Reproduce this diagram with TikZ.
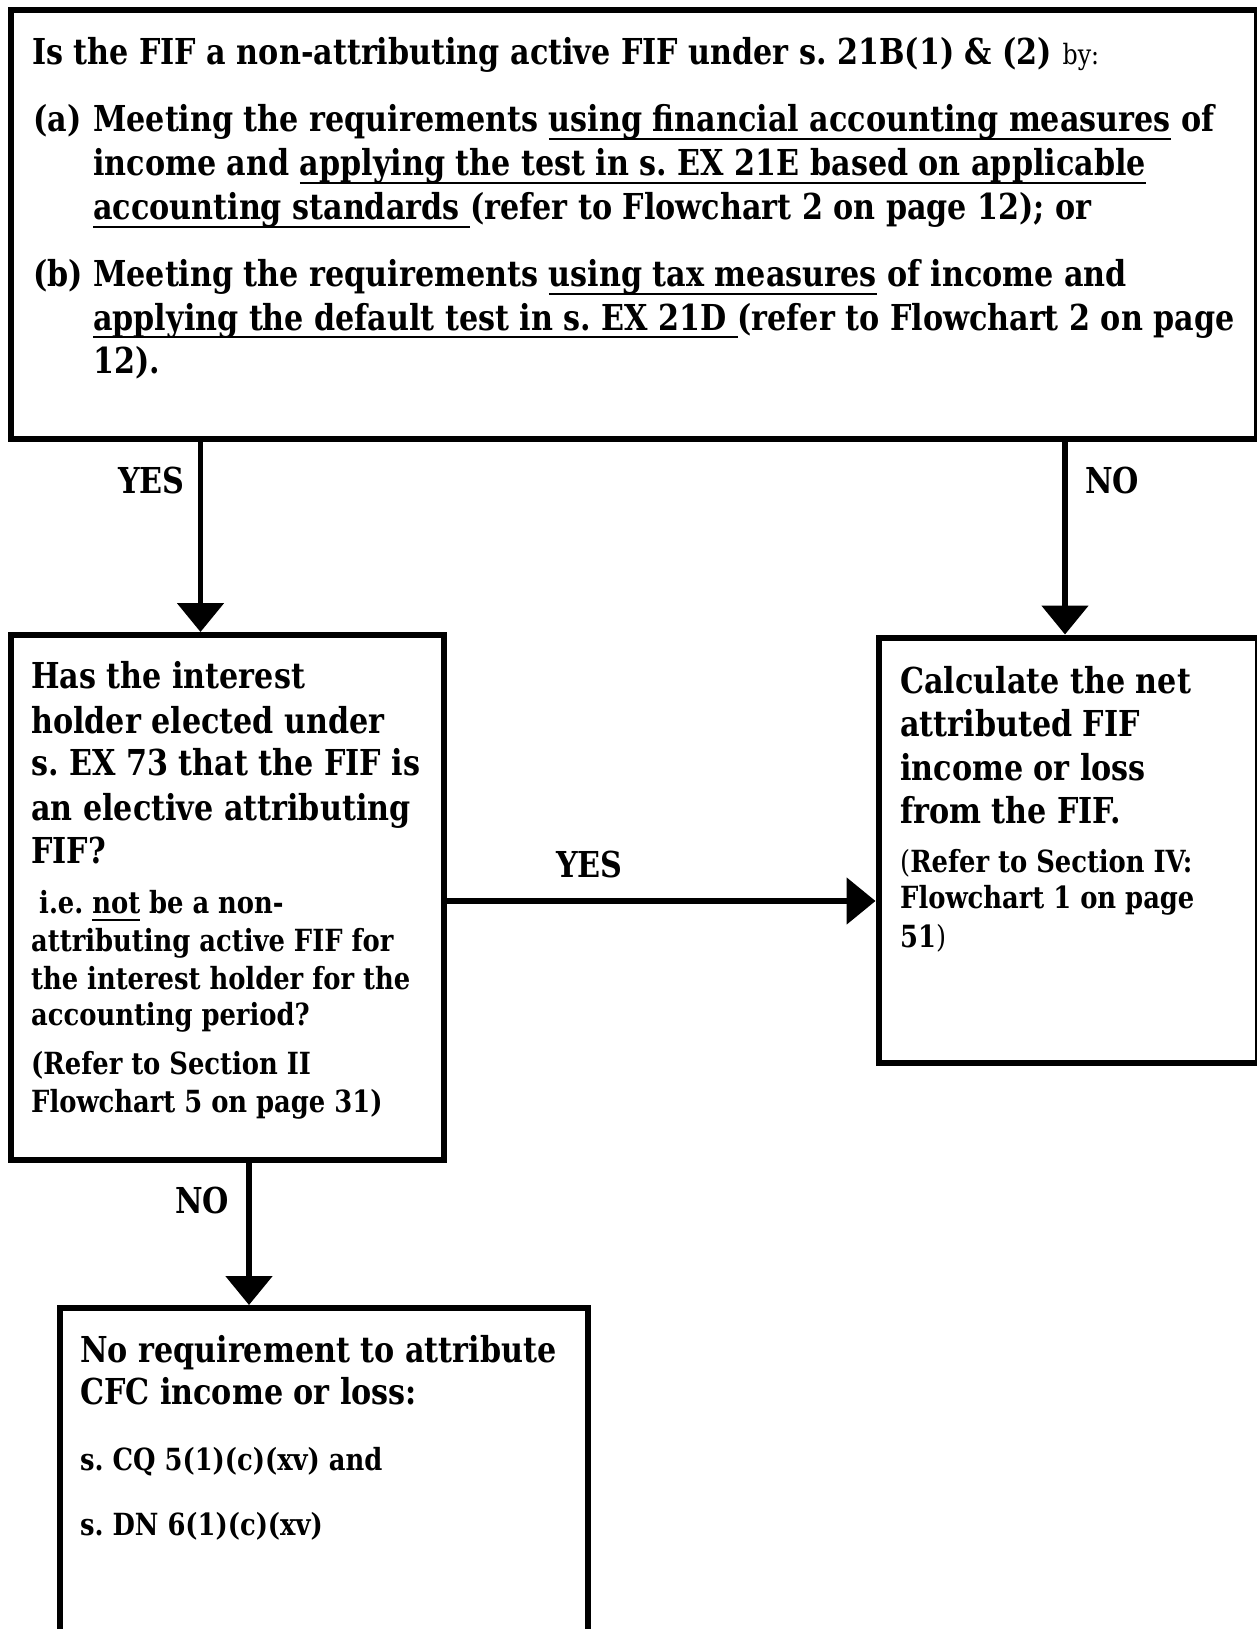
\documentclass[tikz,border=0pt]{standalone}
\usepackage{fontspec}
\setmainfont{DejaVu Serif Condensed}[FakeStretch=0.94]
\usetikzlibrary{arrows.meta}
\frenchspacing
\newcommand\ul[1]{\setbox0\hbox{#1}\rlap{\rule[-8pt]{\wd0}{2pt}}\box0\relax}
\tikzset{
  box/.style={draw, line width=6pt, rectangle, inner sep=0pt, anchor=north west},
  big/.style={font=\fontsize{35.7}{44}\selectfont\bfseries, anchor=base west, inner sep=0pt},
  small/.style={font=\fontsize{30.5}{37}\selectfont\bfseries, anchor=base west, inner sep=0pt},
  arr/.style={line width=5.5pt, -{Triangle[length=29pt,width=46pt]}},
}
\begin{document}
\begin{tikzpicture}[x=1pt,y=-1pt]
\useasboundingbox (0,0) rectangle (1257,1629);
\clip (0,0) rectangle (1257,1629);
% boxes
\node[box, minimum width=1246pt, minimum height=428.5pt] (top) at (8,7) {};
\node[box, minimum width=433pt, minimum height=525pt] (left) at (8,632) {};
\node[box, minimum width=379pt, minimum height=425.5pt] (right) at (875.5,634.5) {};
\node[box, minimum width=528pt, minimum height=400pt] (bottom) at (57,1305) {};
% top box text
\node[big] (t1) at (32,65) {Is the FIF a non-attributing active FIF under s. 21B(1) \& (2) {\mdseries\fontsize{28}{34}\selectfont by:}};
\node[big] (t2a) at (33,132) {(a)};
\node[big] (t2) at (93,132) {Meeting the requirements \ul{using financial accounting measures} of};
\node[big] (t3) at (93,176) {income and \ul{applying the test in s. EX 21E based on applicable}};
\node[big] (t4) at (93,220) {\ul{accounting standards\ }(refer to Flowchart 2 on page 12); or};
\node[big] (t5a) at (33,287) {(b)};
\node[big] (t5) at (93,287) {Meeting the requirements \ul{using tax measures} of income and};
\node[big] (t6) at (93,330) {\ul{applying the default test in s. EX 21D\ }(refer to Flowchart 2 on page};
\node[big] (t7) at (93,373) {12).};
% left box text
\node[big] (l1) at (31,688) {Has the interest};
\node[big] (l2) at (31,733) {holder elected under};
\node[big] (l3) at (31,775) {s. EX 73 that the FIF is};
\node[big] (l4) at (31,820) {an elective attributing};
\node[big] (l5) at (31,863) {FIF?};
\node[small] (l6) at (39,913) {i.e. \ul{not} be a non-};
\node[small] (l7) at (31,951) {attributing active FIF for};
\node[small] (l8) at (31,989) {the interest holder for the};
\node[small] (l9) at (31,1025) {accounting period?};
\node[small] (l10) at (31,1074) {(Refer to Section II};
\node[small] (l11) at (31,1112) {Flowchart 5 on page 31)};
% right box text
\node[big] (r1) at (900,693) {Calculate the net};
\node[big] (r2) at (900,736) {attributed FIF};
\node[big] (r3) at (900,780) {income or loss};
\node[big] (r4) at (900,823) {from the FIF.};
\node[small] (r5) at (900,872) {{\mdseries(}Refer to Section IV:};
\node[small] (r6) at (900,908) {Flowchart 1 on page};
\node[small] (r7) at (900,947) {51{\mdseries)}};
% bottom box text
\node[big] (b1) at (80,1362) {No requirement to attribute};
\node[big] (b2) at (80,1404) {CFC income or loss:};
\node[small] (b3) at (80,1470) {s. CQ 5(1)(c)(xv) and};
\node[small] (b4) at (80,1535) {s. DN 6(1)(c)(xv)};
% connectors
\coordinate (ya) at (200.5,0);
\coordinate (na) at (1065,0);
\coordinate (nb) at (249,0);
\coordinate (yb) at (0,901);
\draw[arr] (top.south -| ya) -- (left.north -| ya);
\draw[arr] (top.south -| na) -- (right.north -| na);
\draw[arr] (left.east |- yb) -- (right.west |- yb);
\draw[arr] (left.south -| nb) -- (bottom.north -| nb);
% labels
\node[big] (yes1) at (118,493) {YES};
\node[big] (no1) at (1085,493) {NO};
\node[big] (yes2) at (556,877) {YES};
\node[big] (no2) at (175,1213) {NO};
\end{tikzpicture}
\end{document}
